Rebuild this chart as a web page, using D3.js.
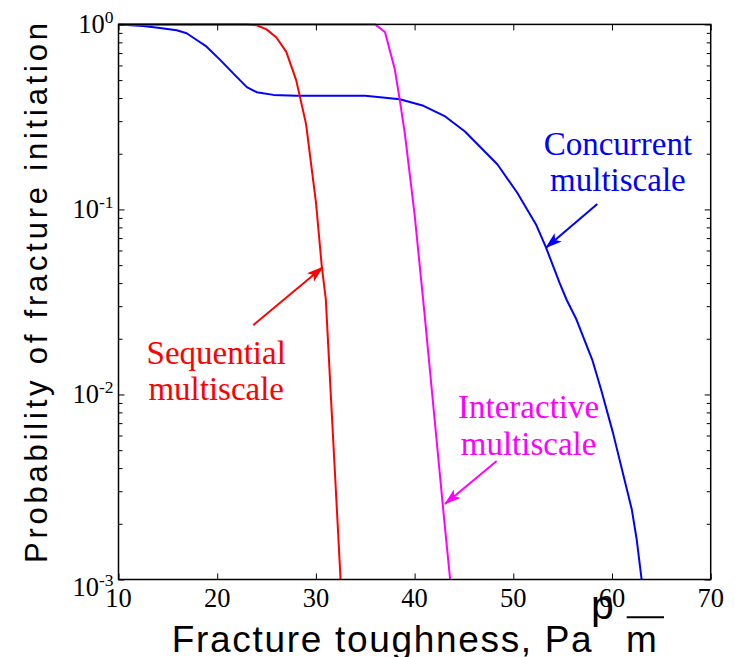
<!DOCTYPE html>
<html>
<head>
<meta charset="utf-8">
<script src="https://cdn.jsdelivr.net/npm/d3@7"></script>
<style>
	html, body { margin: 0; padding: 0; background: #fff; }
	svg { display: block; }
</style>
</head>
<body>
<script>
// fracture toughness (Pa sqrt m) against probability of fracture initiation
const sequentialK = [10, 15, 20, 23, 24, 25, 26, 27, 28, 29, 30, 30.6, 31, 31.5, 32, 32.5];
const sequentialP = [1, 1, 1, 1, 0.99, 0.94, 0.85, 0.71, 0.5, 0.29, 0.11, 0.049, 0.033, 0.0102, 0.0032, 0.001];

const interactiveK = [10, 20, 30, 36, 37, 38, 38.5, 39, 40, 41, 42, 43, 43.6];
const interactiveP = [1, 1, 1, 1, 0.91, 0.57, 0.39, 0.26, 0.094, 0.0275, 0.0076, 0.0021, 0.001];

const concurrentK = [10, 12.5, 14, 15.9, 16.9, 18, 18.9, 20.3, 21.6, 23, 24, 25.7, 28, 35, 38.5, 40.9, 43.1, 45.1, 46.6, 48.4, 50.4, 52.3, 53.3, 54.7, 55.4, 56.4, 58, 58.9, 60.1, 62, 62.5, 63];
const concurrentP = [1, 0.98, 0.96, 0.93, 0.896, 0.818, 0.76, 0.643, 0.545, 0.458, 0.43, 0.416, 0.411, 0.411, 0.394, 0.363, 0.318, 0.264, 0.219, 0.175, 0.123, 0.083, 0.0625, 0.04, 0.0325, 0.0254, 0.0154, 0.0106, 0.0062, 0.0024, 0.00165, 0.001];

const xTicks = [10, 20, 30, 40, 50, 60, 70];
const yDecades = [0, -1, -2, -3];

// labels: text anchor, arrow tail and arrow tip, all in data units
const labelNames = ['Sequential', 'Concurrent', 'Interactive'];
const labelAt = [[19.9, 0.01462], [60.6, 0.197], [51.55, 0.00743]];
const arrowFrom = [[23.66, 0.0237], [58.51, 0.107], [48.32, 0.00437]];
const arrowTo = [[30.69, 0.0487], [53.31, 0.0621], [43.08, 0.00256]];

const series = [
	{ name: 'Concurrent', color: '#0000ff', k: concurrentK, p: concurrentP },
	{ name: 'Sequential', color: '#ff0000', k: sequentialK, p: sequentialP },
	{ name: 'Interactive', color: '#ff00ff', k: interactiveK, p: interactiveP }
];
const colorOf = name => series.find(s => s.name === name).color;

const width = 735, height = 657;
const margin = { top: 24.4, right: 24.3, bottom: 77.5, left: 118.5 };
const chartW = width - margin.left - margin.right;
const chartH = height - margin.top - margin.bottom;

const serif = "'Liberation Serif', 'Times New Roman', serif";
const sans = "'Liberation Sans', Arial, sans-serif";

const x = d3.scaleLinear().domain([10, 70]).range([0, chartW]);
const y = d3.scaleLog().domain([1e-3, 1]).range([chartH, 0]);

const svg = d3.select('body').append('svg')
	.attr('width', width)
	.attr('height', height)
	.attr('viewBox', `0 0 ${width} ${height}`);

const defs = svg.append('defs');
series.forEach(s => {
	defs.append('marker')
		.attr('id', 'head-' + s.name)
		.attr('markerUnits', 'userSpaceOnUse')
		.attr('viewBox', '0 0 17 11')
		.attr('refX', 16)
		.attr('refY', 5.5)
		.attr('markerWidth', 17)
		.attr('markerHeight', 11)
		.attr('orient', 'auto')
		.append('path')
		.attr('d', 'M0,0 L17,5.5 L0,11 L4,5.5 Z')
		.attr('fill', s.color);
});

const g = svg.append('g').attr('transform', `translate(${margin.left},${margin.top})`);

// curves
const line = d3.line()
	.x(d => x(d[0]))
	.y(d => y(d[1]));

g.selectAll('path.curve')
	.data(series)
	.join('path')
	.attr('class', 'curve')
	.attr('d', s => line(s.k.map((k, i) => [k, s.p[i]])))
	.attr('fill', 'none')
	.attr('stroke', s => s.color)
	.attr('stroke-width', 2)
	.attr('stroke-linejoin', 'round');

// box and ticks (MATLAB style, ticks inside on all four sides)
const majorY = yDecades.map(e => Math.pow(10, e));
const minorY = y.ticks().filter(v => !majorY.some(m => Math.abs(m - v) < 1e-12));

const axisStyle = sel => {
	sel.select('.domain').remove();
	sel.selectAll('line').attr('stroke', '#000').attr('stroke-width', 1);
};

g.append('g')
	.attr('transform', `translate(0,${chartH})`)
	.call(d3.axisBottom(x).tickValues(xTicks).tickSizeInner(-6).tickSizeOuter(0).tickFormat(''))
	.call(axisStyle);
g.append('g')
	.call(d3.axisTop(x).tickValues(xTicks).tickSizeInner(-6).tickSizeOuter(0).tickFormat(''))
	.call(axisStyle);
g.append('g')
	.call(d3.axisLeft(y).tickValues(majorY).tickSizeInner(-6).tickSizeOuter(0).tickFormat(''))
	.call(axisStyle);
g.append('g')
	.call(d3.axisLeft(y).tickValues(minorY).tickSizeInner(-4).tickSizeOuter(0).tickFormat(''))
	.call(axisStyle);
g.append('g')
	.attr('transform', `translate(${chartW},0)`)
	.call(d3.axisRight(y).tickValues(majorY).tickSizeInner(-6).tickSizeOuter(0).tickFormat(''))
	.call(axisStyle);
g.append('g')
	.attr('transform', `translate(${chartW},0)`)
	.call(d3.axisRight(y).tickValues(minorY).tickSizeInner(-4).tickSizeOuter(0).tickFormat(''))
	.call(axisStyle);

g.append('rect')
	.attr('width', chartW)
	.attr('height', chartH)
	.attr('fill', 'none')
	.attr('stroke', '#000')
	.attr('stroke-width', 1.5);

// tick labels
g.selectAll('text.xtick')
	.data(xTicks)
	.join('text')
	.attr('class', 'xtick')
	.attr('x', d => x(d))
	.attr('y', chartH + 27.5)
	.attr('text-anchor', 'middle')
	.attr('font-family', serif)
	.attr('font-size', 26.5)
	.text(d => d);

const ytick = g.selectAll('text.ytick')
	.data(yDecades)
	.join('text')
	.attr('class', 'ytick')
	.attr('x', -5)
	.attr('y', d => y(Math.pow(10, d)) + (d === -3 ? 17 : 9))
	.attr('text-anchor', 'end')
	.attr('font-family', serif)
	.attr('font-size', 26.5);
ytick.append('tspan').text('10');
ytick.append('tspan')
	.attr('dy', -10)
	.attr('font-size', 17.5)
	.text(d => d);

// annotations
labelNames.forEach((name, i) => {
	const c = colorOf(name);
	g.append('line')
		.attr('x1', x(arrowFrom[i][0]))
		.attr('y1', y(arrowFrom[i][1]))
		.attr('x2', x(arrowTo[i][0]))
		.attr('y2', y(arrowTo[i][1]))
		.attr('stroke', c)
		.attr('stroke-width', 2)
		.attr('marker-end', `url(#head-${name})`);

	const t = g.append('text')
		.attr('x', x(labelAt[i][0]))
		.attr('y', y(labelAt[i][1]))
		.attr('text-anchor', 'middle')
		.attr('font-family', serif)
		.attr('font-size', 33)
		.attr('fill', c);
	t.append('tspan').text(name);
	t.append('tspan')
		.attr('x', x(labelAt[i][0]))
		.attr('dy', 36.5)
		.text('multiscale');
});

// axis titles
svg.append('text')
	.attr('transform', `translate(47,293) rotate(-90)`)
	.attr('text-anchor', 'middle')
	.attr('font-family', sans)
	.attr('font-size', 31)
	.attr('textLength', 540)
	.attr('lengthAdjust', 'spacing')
	.text('Probability of fracture initiation');

svg.append('text')
	.attr('x', 171.7)
	.attr('y', 651.7)
	.attr('font-family', sans)
	.attr('font-size', 37)
	.attr('textLength', 420)
	.attr('lengthAdjust', 'spacing')
	.text('Fracture toughness, Pa');

svg.append('text')
	.attr('x', 591)
	.attr('y', 619)
	.attr('font-family', sans)
	.attr('font-size', 41)
	.text('p');

svg.append('line')
	.attr('x1', 626.7)
	.attr('x2', 664)
	.attr('y1', 617.3)
	.attr('y2', 617.3)
	.attr('stroke', '#000')
	.attr('stroke-width', 2);

svg.append('text')
	.attr('x', 626)
	.attr('y', 651.7)
	.attr('font-family', sans)
	.attr('font-size', 37)
	.text('m');
</script>
</body>
</html>
